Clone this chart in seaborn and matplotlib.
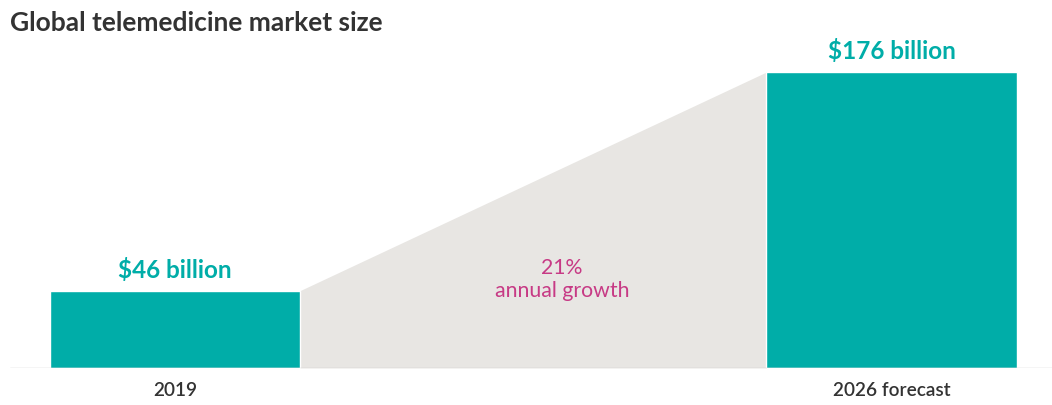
import matplotlib
matplotlib.use("Agg")
import matplotlib.pyplot as plt
import seaborn as sns
import pandas as pd

categories = ["2019", "2026 forecast"]
values = [46, 176]
value_labels = ["$46 billion", "$176 billion"]
growth_labels = ["21%", "annual growth"]
title = "Global telemedicine market size"

TEAL = "#00ADA8"
GREY_FILL = "#E8E6E3"
MAGENTA = "#C73A85"
DARK = "#333333"

sns.set_theme(style="white")
plt.rcParams["font.family"] = ["Lato", "DejaVu Sans"]

df = pd.DataFrame({"year": categories, "size": values})

fig = plt.figure(figsize=(10.52, 4.05), dpi=100)
# axes from x=10px to 1052px, baseline at y=368px, top at y=30px
ax = fig.add_axes([10 / 1052, 37 / 405, 1042 / 1052, 338 / 405])

bw = 0.349
# growth wedge between the bars
xs = [0 + bw / 2, 1 - bw / 2]
ax.fill_between(xs, 0, values, color=GREY_FILL, lw=0, zorder=1)

sns.barplot(data=df, x="year", y="size", color=TEAL, saturation=1,
            width=bw, ax=ax, zorder=2)

ax.axhline(0, color="#CCCCCC", lw=1.0, zorder=3)

for i, (v, lab) in enumerate(zip(values, value_labels)):
    ax.text(i, v + 7.5, lab, ha="center", va="baseline", color=TEAL,
            fontsize=17.5, fontweight="bold")

ax.text(0.54, 55.8, growth_labels[0], ha="center", va="baseline",
        color=MAGENTA, fontsize=15.3)
ax.text(0.54, 42.0, growth_labels[1], ha="center", va="baseline",
        color=MAGENTA, fontsize=15.3)

ax.set_xlim((10 - 175) / 716.5, (1052 - 175) / 716.5)
ax.set_ylim(0, 338 / 1.682)
ax.set_xlabel("")
ax.set_ylabel("")
ax.set_yticks([])
ax.tick_params(axis="x", length=0, pad=10, labelsize=13.7, labelcolor=DARK)
for t in ax.get_xticklabels():
    t.set_fontweight("semibold")
for s in ax.spines.values():
    s.set_visible(False)

fig.text(10 / 1052, 1 - 31 / 405, title, ha="left", va="baseline",
         fontsize=19, fontweight="bold", color=DARK)

fig.savefig("out.png", dpi=100, facecolor="white")
